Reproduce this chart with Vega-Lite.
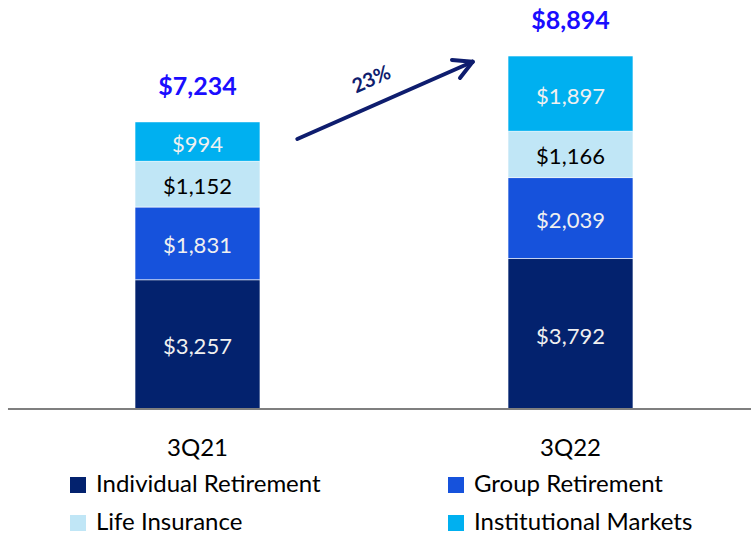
{
  "$schema": "https://vega.github.io/schema/vega-lite/v6.json",
  "width": 734,
  "height": 409,
  "autosize": "none",
  "padding": {"left": 17, "top": 0, "right": 0, "bottom": 126},
  "config": {
    "view": {"stroke": null},
    "font": "Lato",
    "text": {"font": "Lato"}
  },
  "datasets": {
    "segments": [
      {"quarter": "3Q21", "segment": "Individual Retirement", "rank": 1, "value": 3257},
      {"quarter": "3Q21", "segment": "Group Retirement", "rank": 2, "value": 1831},
      {"quarter": "3Q21", "segment": "Life Insurance", "rank": 3, "value": 1152},
      {"quarter": "3Q21", "segment": "Institutional Markets", "rank": 4, "value": 994},
      {"quarter": "3Q22", "segment": "Individual Retirement", "rank": 1, "value": 3792},
      {"quarter": "3Q22", "segment": "Group Retirement", "rank": 2, "value": 2039},
      {"quarter": "3Q22", "segment": "Life Insurance", "rank": 3, "value": 1166},
      {"quarter": "3Q22", "segment": "Institutional Markets", "rank": 4, "value": 1897}
    ],
    "arrow": [
      {"part": "shaft", "x": 0.3819, "y": 6803, "x2": 0.6208, "y2": 8750},
      {"part": "barb1", "x": 0.5926, "y": 8793, "x2": 0.6208, "y2": 8750},
      {"part": "barb2", "x": 0.6035, "y": 8340, "x2": 0.6208, "y2": 8750}
    ],
    "baseline": [
      {"x": -0.0123, "x2": 1.0, "y": 0}
    ],
    "growth": [
      {"label": "23%", "x": 0.4832, "y": 8290}
    ]
  },
  "layer": [
    {
      "data": {"name": "segments"},
      "layer": [
        {
          "mark": {"type": "bar", "stroke": "#ffffff", "strokeWidth": 0.6},
          "encoding": {
            "x": {
              "field": "quarter", "type": "nominal",
              "scale": {"paddingInner": 0.665, "paddingOuter": 0.3164},
              "axis": {
                "title": null, "labelAngle": 0, "ticks": false, "domain": false,
                "labelFontSize": 24, "labelColor": "#000000", "labelFont": "Lato",
                "labelPadding": 27
              }
            },
            "y": {
              "field": "value", "type": "quantitative", "stack": "zero",
              "scale": {"domain": [0, 10305], "nice": false, "zero": true},
              "axis": null
            },
            "order": {"field": "rank", "type": "quantitative", "sort": "ascending"},
            "color": {
              "field": "segment", "type": "nominal",
              "scale": {
                "domain": ["Individual Retirement", "Group Retirement", "Life Insurance", "Institutional Markets"],
                "range": ["#03226e", "#1652dc", "#c0e6f6", "#00b0f0"]
              },
              "legend": {
                "title": null, "orient": "none", "legendX": 49, "legendY": 473,
                "direction": "horizontal", "columns": 2, "columnPadding": 123,
                "rowPadding": 14, "padding": 0,
                "symbolType": "square", "symbolSize": 256, "symbolStrokeWidth": 0,
                "symbolOpacity": 1, "labelFontSize": 24, "labelFont": "Lato",
                "labelColor": "#000000", "labelOffset": 6, "labelLimit": 400
              }
            }
          }
        },
        {
          "transform": [
            {"stack": "value", "groupby": ["quarter"], "sort": [{"field": "rank", "order": "ascending"}], "as": ["v0", "v1"]},
            {"calculate": "(datum.v0 + datum.v1) / 2", "as": "mid"}
          ],
          "mark": {"type": "text", "fontSize": 22, "baseline": "middle", "align": "center", "dy": 3},
          "encoding": {
            "x": {"field": "quarter", "type": "nominal"},
            "y": {"field": "mid", "type": "quantitative"},
            "text": {"field": "value", "type": "quantitative", "format": "$,.0f"},
            "color": {
              "condition": {"test": "datum.segment === 'Life Insurance'", "value": "#000000"},
              "value": "#f0f0f0"
            }
          }
        },
        {
          "transform": [
            {"aggregate": [{"op": "sum", "field": "value", "as": "total"}], "groupby": ["quarter"]}
          ],
          "mark": {"type": "text", "fontSize": 25, "fontWeight": "bold", "color": "#1a0dff", "baseline": "middle", "dy": -35},
          "encoding": {
            "x": {"field": "quarter", "type": "nominal"},
            "y": {"field": "total", "type": "quantitative"},
            "text": {"field": "total", "type": "quantitative", "format": "$,.0f"}
          }
        }
      ]
    },
    {
      "data": {"name": "baseline"},
      "mark": {"type": "rule", "color": "#7f7f7f", "strokeWidth": 2},
      "encoding": {
        "x": {"field": "x", "type": "quantitative", "scale": {"domain": [0, 1], "nice": false, "zero": false}, "axis": null},
        "x2": {"field": "x2"},
        "y": {"field": "y", "type": "quantitative"}
      }
    },
    {
      "data": {"name": "arrow"},
      "mark": {"type": "rule", "color": "#0e1d6e", "strokeWidth": 4, "strokeCap": "round"},
      "encoding": {
        "x": {"field": "x", "type": "quantitative", "scale": {"domain": [0, 1], "nice": false, "zero": false}, "axis": null},
        "x2": {"field": "x2"},
        "y": {"field": "y", "type": "quantitative"},
        "y2": {"field": "y2"}
      }
    },
    {
      "data": {"name": "growth"},
      "mark": {"type": "text", "fontSize": 20, "fontWeight": "bold", "color": "#0e1d6e", "angle": 336, "baseline": "middle", "align": "center"},
      "encoding": {
        "x": {"field": "x", "type": "quantitative", "scale": {"domain": [0, 1], "nice": false, "zero": false}, "axis": null},
        "y": {"field": "y", "type": "quantitative"},
        "text": {"field": "label"}
      }
    }
  ],
  "resolve": {"scale": {"x": "independent"}}
}
